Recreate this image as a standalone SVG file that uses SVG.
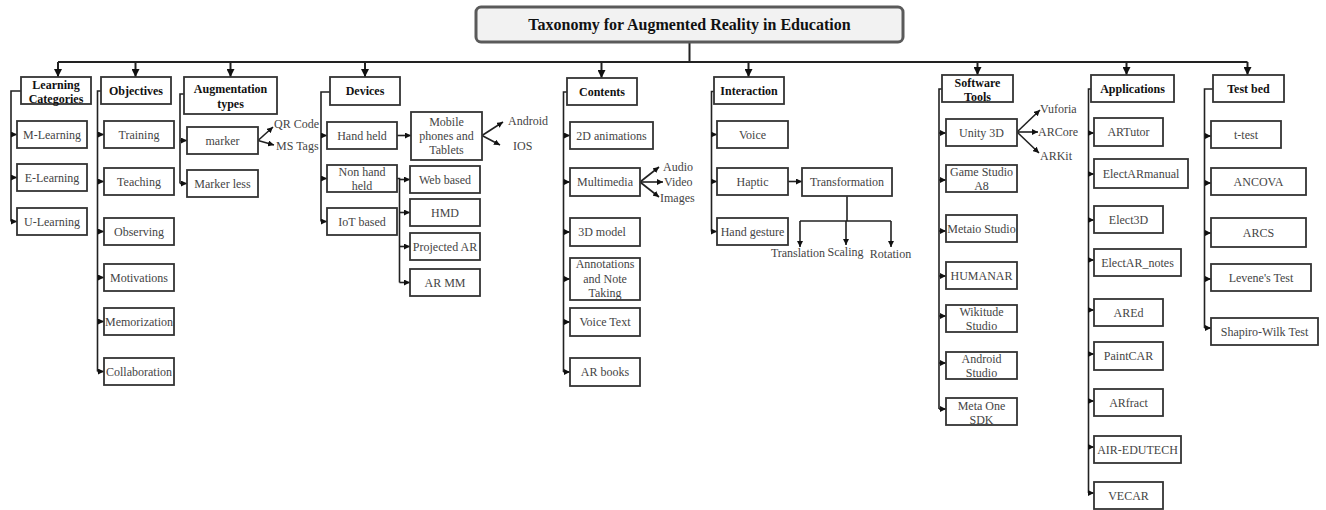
<svg xmlns="http://www.w3.org/2000/svg" width="1326" height="510" viewBox="0 0 1326 510">
<style>
.b{fill:#fff;stroke:#333;stroke-width:1.8}
.ttl{fill:#f2f2f2;stroke:#5a5a5a;stroke-width:3}
.t{font-family:'Liberation Serif','Tinos','Times New Roman','DejaVu Serif',serif;font-size:12px;fill:#444;text-anchor:middle}
.h{font-weight:bold;fill:#111}
.s{text-anchor:start}
.c{fill:none;stroke:#222;stroke-width:1.6}
.cb{fill:none;stroke:#222;stroke-width:2}
</style>
<defs>
<marker id="big" markerUnits="userSpaceOnUse" markerWidth="8" markerHeight="8" refX="8" refY="4" orient="auto"><path d="M0,0 L8,4 L0,8 z" fill="#111"/></marker>
<marker id="sm" markerUnits="userSpaceOnUse" markerWidth="6" markerHeight="6" refX="6" refY="3" orient="auto"><path d="M0,0 L6,3 L0,6 z" fill="#111"/></marker>
</defs>
<rect width="1326" height="510" fill="#fff"/>

<g id="connectors">
<path class="cb" d="M689.5 42 V62 M58 62 H1247.5"/>
<g class="cb" marker-end="url(#big)">
<path d="M58 62 V77"/><path d="M135.5 62 V77"/><path d="M230.5 62 V77"/><path d="M365 62 V77"/>
<path d="M601.5 62 V78"/><path d="M748.5 62 V77"/><path d="M977.5 62 V75"/><path d="M1126.5 62 V75"/><path d="M1247.5 62 V75"/>
</g>
<path class="c" d="M21 91 H11 V221.5"/>
<path class="c" d="M101 91 H97.5 V371.5"/>
<path class="c" d="M184 94 H180 V183.5"/>
<path class="c" d="M330 92 H321 V221.5"/>
<path class="c" d="M567 92 H563.5 V372"/>
<path class="c" d="M714 91.5 H711.5 V231.5"/>
<path class="c" d="M942 89 H939 V409"/>
<path class="c" d="M1091 89 H1088.5 V493"/>
<path class="c" d="M1213 89 H1204.5 V328"/>
<path class="c" d="M397 178.5 H399.5 V282.5"/>
<path class="c" d="M847 196 V221 M800 221 H891"/>
<g class="c" marker-end="url(#sm)">
<path d="M11 134.5 H17"/><path d="M11 177.5 H17"/><path d="M11 221.5 H17"/>
<path d="M97.5 134.5 H104"/><path d="M97.5 181.5 H104"/><path d="M97.5 231.5 H104"/><path d="M97.5 277.5 H104"/><path d="M97.5 321.5 H104"/><path d="M97.5 371.5 H104"/>
<path d="M180 140.5 H187"/><path d="M180 183.5 H187"/>
<path d="M258 140.5 L273 127"/><path d="M258 140.5 L274 145"/>
<path d="M321 135.5 H327"/><path d="M321 178.5 H327"/><path d="M321 221.5 H327"/>
<path d="M397 135.5 H411"/>
<path d="M482 135.5 L503 122"/><path d="M482 135.5 L500 145"/>
<path d="M399.5 179.5 H410"/><path d="M399.5 212.5 H410"/><path d="M399.5 246.5 H410"/><path d="M399.5 282.5 H410"/>
<path d="M563.5 135.5 H570"/><path d="M563.5 182 H570"/><path d="M563.5 232 H570"/><path d="M563.5 279 H570"/><path d="M563.5 322 H570"/><path d="M563.5 372 H570"/>
<path d="M640 182 L659 167"/><path d="M640 182 L663 182"/><path d="M640 182 L659 197"/>
<path d="M711.5 134.5 H717"/><path d="M711.5 181.5 H717"/><path d="M711.5 231.5 H717"/>
<path d="M788 181.5 H802"/>
<path d="M800 221 V247"/><path d="M846 221 V245"/><path d="M891 221 V247"/>
<path d="M939 133 H946"/><path d="M939 180 H946"/><path d="M939 231 H946"/><path d="M939 276 H946"/><path d="M939 316 H946"/><path d="M939 363 H946"/><path d="M939 409 H946"/>
<path d="M1017 132 L1040 110"/><path d="M1017 132 L1038 132"/><path d="M1017 132 L1039 153"/>
<path d="M1088.5 133 H1094"/><path d="M1088.5 174 H1094"/><path d="M1088.5 220 H1094"/><path d="M1088.5 260 H1094"/><path d="M1088.5 310 H1094"/><path d="M1088.5 354 H1094"/><path d="M1088.5 401 H1094"/><path d="M1088.5 447 H1094"/><path d="M1088.5 493 H1094"/>
<path d="M1204.5 136 H1211"/><path d="M1204.5 183 H1211"/><path d="M1204.5 233 H1211"/><path d="M1204.5 279 H1211"/><path d="M1204.5 328 H1211"/>
</g>
</g>

<g id="title"><rect class="ttl" x="476" y="7" width="427" height="35" rx="5"/><text class="t h" x="689.5" y="30" style="font-size:16px">Taxonomy for Augmented Reality in Education</text></g>

<g id="learning-categories"><rect class="b" x="21" y="77" width="70" height="27"/><text class="t h" x="56" y="89">Learning</text><text class="t h" x="56" y="102.5">Categories</text></g>
<g id="m-learning"><rect class="b" x="17" y="121" width="70" height="27"/><text class="t" x="52" y="138.5">M-Learning</text></g>
<g id="e-learning"><rect class="b" x="17" y="164" width="70" height="27"/><text class="t" x="52" y="181.5">E-Learning</text></g>
<g id="u-learning"><rect class="b" x="17" y="208" width="70" height="27"/><text class="t" x="52" y="225.5">U-Learning</text></g>

<g id="objectives"><rect class="b" x="101" y="77" width="70" height="27"/><text class="t h" x="136" y="95">Objectives</text></g>
<g id="training"><rect class="b" x="104" y="121" width="70" height="27"/><text class="t" x="139" y="138.5">Training</text></g>
<g id="teaching"><rect class="b" x="104" y="168" width="70" height="27"/><text class="t" x="139" y="185.5">Teaching</text></g>
<g id="observing"><rect class="b" x="104" y="218" width="70" height="27"/><text class="t" x="139" y="235.5">Observing</text></g>
<g id="motivations"><rect class="b" x="104" y="264" width="70" height="27"/><text class="t" x="139" y="281.5">Motivations</text></g>
<g id="memorization"><rect class="b" x="104" y="308" width="70" height="27"/><text class="t" x="139" y="325.5">Memorization</text></g>
<g id="collaboration"><rect class="b" x="104" y="358" width="70" height="27"/><text class="t" x="139" y="375.5">Collaboration</text></g>

<g id="augmentation-types"><rect class="b" x="184" y="77" width="93" height="37"/><text class="t h" x="230.5" y="93">Augmentation</text><text class="t h" x="230.5" y="108">types</text></g>
<g id="marker"><rect class="b" x="187" y="127" width="71" height="27"/><text class="t" x="222.5" y="144.5">marker</text></g>
<g id="marker-less"><rect class="b" x="187" y="170" width="71" height="27"/><text class="t" x="222.5" y="187.5">Marker less</text></g>
<g id="qr-code"><text class="t s" x="274" y="127.5">QR Code</text></g>
<g id="ms-tags"><text class="t s" x="276" y="150">MS Tags</text></g>

<g id="devices"><rect class="b" x="330" y="77" width="70" height="28"/><text class="t h" x="365" y="95">Devices</text></g>
<g id="hand-held"><rect class="b" x="327" y="122" width="70" height="27"/><text class="t" x="362" y="139.5">Hand held</text></g>
<g id="non-hand-held"><rect class="b" x="327" y="165" width="70" height="27"/><text class="t" x="362" y="175.5">Non hand</text><text class="t" x="362" y="190">held</text></g>
<g id="iot-based"><rect class="b" x="327" y="208" width="70" height="27"/><text class="t" x="362" y="225.5">IoT based</text></g>
<g id="mobile"><rect class="b" x="411" y="112" width="71" height="48"/><text class="t" x="446.5" y="125.7">Mobile</text><text class="t" x="446.5" y="140">phones and</text><text class="t" x="446.5" y="154">Tablets</text></g>
<g id="android"><text class="t s" x="508" y="124.7">Android</text></g>
<g id="ios"><text class="t s" x="513" y="150">IOS</text></g>
<g id="web-based"><rect class="b" x="410" y="166" width="70" height="27"/><text class="t" x="445" y="183.5">Web based</text></g>
<g id="hmd"><rect class="b" x="410" y="199" width="70" height="27"/><text class="t" x="445" y="216.5">HMD</text></g>
<g id="projected-ar"><rect class="b" x="410" y="233" width="70" height="27"/><text class="t" x="445" y="250.5">Projected AR</text></g>
<g id="ar-mm"><rect class="b" x="410" y="269" width="70" height="27"/><text class="t" x="445" y="286.5">AR MM</text></g>

<g id="contents"><rect class="b" x="567" y="78" width="70" height="27"/><text class="t h" x="602" y="96">Contents</text></g>
<g id="2d-animations"><rect class="b" x="570" y="122" width="83" height="27"/><text class="t" x="611.5" y="139.5">2D animations</text></g>
<g id="multimedia"><rect class="b" x="570" y="168" width="70" height="28"/><text class="t" x="605" y="186">Multimedia</text></g>
<g id="audio"><text class="t s" x="663" y="170.7">Audio</text></g>
<g id="video"><text class="t s" x="664" y="186">Video</text></g>
<g id="images"><text class="t s" x="660" y="202">Images</text></g>
<g id="3d-model"><rect class="b" x="570" y="218" width="70" height="28"/><text class="t" x="602" y="236">3D model</text></g>
<g id="annotations"><rect class="b" x="570" y="258" width="70" height="42"/><text class="t" x="605" y="268.3">Annotations</text><text class="t" x="605" y="283">and Note</text><text class="t" x="605" y="297.3">Taking</text></g>
<g id="voice-text"><rect class="b" x="570" y="308" width="70" height="28"/><text class="t" x="605" y="326">Voice Text</text></g>
<g id="ar-books"><rect class="b" x="570" y="358" width="70" height="28"/><text class="t" x="605" y="376">AR books</text></g>

<g id="interaction"><rect class="b" x="714" y="77" width="70" height="27"/><text class="t h" x="749" y="95">Interaction</text></g>
<g id="voice"><rect class="b" x="717" y="121" width="71" height="27"/><text class="t" x="752.5" y="138.5">Voice</text></g>
<g id="haptic"><rect class="b" x="717" y="168" width="71" height="27"/><text class="t" x="752.5" y="185.5">Haptic</text></g>
<g id="hand-gesture"><rect class="b" x="717" y="218" width="71" height="27"/><text class="t" x="752.5" y="235.5">Hand gesture</text></g>
<g id="transformation"><rect class="b" x="802" y="168" width="90" height="28"/><text class="t" x="847" y="186">Transformation</text></g>
<g id="translation"><text class="t" x="798" y="256.7">Translation</text></g>
<g id="scaling"><text class="t" x="845.5" y="256">Scaling</text></g>
<g id="rotation"><text class="t" x="890.5" y="257.7">Rotation</text></g>

<g id="software-tools"><rect class="b" x="942" y="75" width="71" height="27"/><text class="t h" x="977.5" y="86.5">Software</text><text class="t h" x="977.5" y="100.5">Tools</text></g>
<g id="unity-3d"><rect class="b" x="946" y="119" width="71" height="27"/><text class="t" x="981.5" y="136.5">Unity 3D</text></g>
<g id="vuforia"><text class="t s" x="1040" y="113.3">Vuforia</text></g>
<g id="arcore"><text class="t s" x="1038" y="136.3">ARCore</text></g>
<g id="arkit"><text class="t s" x="1040" y="159.7">ARKit</text></g>
<g id="game-studio"><rect class="b" x="946" y="165" width="71" height="27"/><text class="t" x="981.5" y="175.7">Game Studio</text><text class="t" x="981.5" y="190.3">A8</text></g>
<g id="metaio"><rect class="b" x="946" y="215" width="71" height="27"/><text class="t" x="981.5" y="232.5">Metaio Studio</text></g>
<g id="humanar"><rect class="b" x="946" y="262" width="71" height="27"/><text class="t" x="981.5" y="279.5">HUMANAR</text></g>
<g id="wikitude"><rect class="b" x="946" y="305" width="71" height="27"/><text class="t" x="981.5" y="315.7">Wikitude</text><text class="t" x="981.5" y="330">Studio</text></g>
<g id="android-studio"><rect class="b" x="946" y="352" width="71" height="27"/><text class="t" x="981.5" y="363">Android</text><text class="t" x="981.5" y="377.3">Studio</text></g>
<g id="meta-one"><rect class="b" x="946" y="398" width="71" height="27"/><text class="t" x="981.5" y="409.7">Meta One</text><text class="t" x="981.5" y="424">SDK</text></g>

<g id="applications"><rect class="b" x="1091" y="75" width="83" height="27"/><text class="t h" x="1132.5" y="93">Applications</text></g>
<g id="artutor"><rect class="b" x="1094" y="118" width="69" height="28"/><text class="t" x="1128.5" y="136">ARTutor</text></g>
<g id="electarmanual"><rect class="b" x="1094" y="159" width="94" height="29"/><text class="t" x="1141" y="177.5">ElectARmanual</text></g>
<g id="elect3d"><rect class="b" x="1094" y="206" width="69" height="27"/><text class="t" x="1128.5" y="223.5">Elect3D</text></g>
<g id="electar-notes"><rect class="b" x="1094" y="249" width="87" height="27"/><text class="t" x="1137.5" y="266.5">ElectAR_notes</text></g>
<g id="ared"><rect class="b" x="1094" y="299" width="69" height="27"/><text class="t" x="1128.5" y="316.5">AREd</text></g>
<g id="paintcar"><rect class="b" x="1094" y="342" width="69" height="28"/><text class="t" x="1128.5" y="360">PaintCAR</text></g>
<g id="arfract"><rect class="b" x="1094" y="389" width="69" height="27"/><text class="t" x="1128.5" y="406.5">ARfract</text></g>
<g id="air-edutech"><rect class="b" x="1094" y="436" width="87" height="27"/><text class="t" x="1137.5" y="453.5">AIR-EDUTECH</text></g>
<g id="vecar"><rect class="b" x="1094" y="482" width="69" height="27"/><text class="t" x="1128.5" y="499.5">VECAR</text></g>

<g id="test-bed"><rect class="b" x="1213" y="75" width="71" height="27"/><text class="t h" x="1248.5" y="93">Test bed</text></g>
<g id="t-test"><rect class="b" x="1211" y="121" width="70" height="27"/><text class="t" x="1246" y="138.5">t-test</text></g>
<g id="ancova"><rect class="b" x="1211" y="168" width="95" height="27"/><text class="t" x="1258.5" y="185.5">ANCOVA</text></g>
<g id="arcs"><rect class="b" x="1211" y="218" width="95" height="29"/><text class="t" x="1258.5" y="236.5">ARCS</text></g>
<g id="levene"><rect class="b" x="1211" y="264" width="100" height="27"/><text class="t" x="1261" y="281.5">Levene's Test</text></g>
<g id="shapiro"><rect class="b" x="1211" y="318" width="107" height="27"/><text class="t" x="1264.5" y="335.5">Shapiro-Wilk Test</text></g>
</svg>
